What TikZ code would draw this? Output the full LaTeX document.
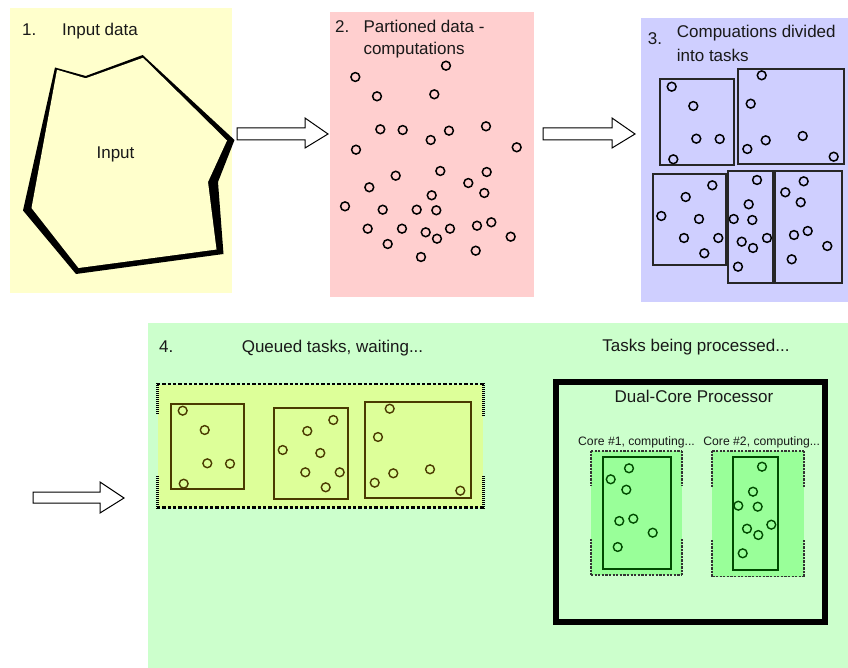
\documentclass[tikz,border=0pt]{standalone}
\usepackage{fontspec}
\setmainfont{Liberation Sans}
\definecolor{pyellow}{HTML}{FFFFCC}
\definecolor{ppink}{HTML}{FFCFCF}
\definecolor{plav}{HTML}{CFCFFF}
\definecolor{pgreen}{HTML}{CCFFCC}
\definecolor{qfill}{HTML}{DDFF99}
\definecolor{olive}{HTML}{4A3A00}
\definecolor{cfill}{HTML}{99FF99}
\definecolor{dgreen}{HTML}{004A00}
\tikzset{
  big/.style={font=\fontsize{17}{20}\selectfont, inner sep=0pt, text=black!90},
  small/.style={font=\fontsize{12.2}{14}\selectfont, inner sep=0pt, text=black!90},
  blockarrow/.style={draw=black, fill=white, line width=1pt, line join=miter},
  circ/.style={draw=black, line width=1.5pt},
  qcirc/.style={draw=olive, line width=1.4pt},
  ccirc/.style={draw=dgreen, line width=1.4pt},
  taskbox/.style={draw=black!85, line width=1.7pt},
  qbox/.style={draw=olive, line width=1.7pt},
  cbox/.style={draw=dgreen, line width=1.7pt},
  qdash/.style={draw=black, line width=2.5pt, dash pattern=on 3.3pt off 2pt},
  qside/.style={draw=black, line width=3pt, dash pattern=on 1.2pt off 0.8pt},
  cdash/.style={draw=black!80, line width=1.4pt, dash pattern=on 2.2pt off 1.4pt},
  cside/.style={draw=black!80, line width=2pt, dash pattern=on 0.8pt off 0.6pt},
}
\begin{document}
\begin{tikzpicture}[x=1pt,y=-1pt]
\useasboundingbox (0,0) rectangle (848,668);
\fill[white] (0,0) rectangle (848,668);
% panels
\fill[pyellow] (10,8) rectangle (232,293);
\fill[ppink] (330,12) rectangle (534,297);
\fill[plav] (641,18) rectangle (848,302);
\fill[pgreen] (148,323) rectangle (848,668);

% panel 1
\node[big, anchor=base west] (n1) at (22,35.5) {1.};
\node[big, anchor=base west] (t1) at (62,35.5) {Input data};
\fill[black] (55,67.5) -- (85.7,76) -- (142.7,55) -- (234.5,140) -- (218,182) -- (223.5,254) -- (76,274) -- (23,210.5) -- cycle;
\fill[pyellow] (57,69.8) -- (85.7,78.3) -- (143,57.8) -- (227,140.5) -- (208,182) -- (216.5,249.5) -- (78.5,268) -- (31.5,208) -- cycle;
\node[big, anchor=base] (inp) at (115.5,158.3) {Input};

% arrows
\draw[blockarrow] (237,128) -- (305,128) -- (305,118) -- (328,134) -- (305,148) -- (305,140) -- (237,140) -- cycle;
\draw[blockarrow] (543,128) -- (612,128) -- (612,118) -- (635,134) -- (612,148) -- (612,140) -- (543,140) -- cycle;
\draw[blockarrow] (33,492) -- (100,492) -- (100,482) -- (124,498) -- (100,513) -- (100,503) -- (33,503) -- cycle;

% panel 2
\node[big, anchor=base west] (n2) at (335,32.3) {2.};
\node[big, anchor=base west] (t2a) at (363.3,32.3) {Partioned data -};
\node[big, anchor=base west] (t2b) at (363.3,55) {computations};
\foreach \x/\y in {355.3/77, 446/65.7, 377/96.3, 434.3/94.3, 380.3/129.3, 402.7/130, 430.7/140, 449/130.7, 486/126.3, 356/149.7, 516.7/147.3, 395.7/175.7, 440.3/171, 486.7/172, 369.3/187.3, 468.3/183, 431.7/195.3, 484.3/193, 345/206.3, 382.7/209.7, 416.7/209.7, 436.3/210.3, 367.7/228.7, 402/228.7, 425.7/232.3, 437/238.7, 450/228.7, 477/225.7, 491.3/222.3, 510.7/236.7, 387.7/244, 475.7/250.7, 421/257}
  \draw[circ] (\x,\y) circle[radius=4.4pt];

% panel 3
\node[big, anchor=base west] (n3) at (647.7,44.5) {3.};
\node[big, anchor=base west] (t3a) at (676.7,37.5) {Compuations divided};
\node[big, anchor=base west] (t3b) at (676.7,61.5) {into tasks};
\draw[taskbox] (660.3,79.3) rectangle (733.7,165.3);
\draw[taskbox] (737.7,69) rectangle (844,164.3);
\draw[taskbox] (652.7,173.7) rectangle (726,265.3);
\draw[taskbox] (728,170.7) rectangle (773,283.3);
\draw[taskbox] (775,170.7) rectangle (842.3,282.7);
\foreach \x/\y in {671.7/86.7, 693.3/106, 696.3/138.7, 719.7/139, 673.3/159.3,
  761.7/75.3, 750.7/103.7, 765.7/140.3, 802.7/136, 747.3/149, 833.7/156.7,
  712.3/185.3, 685.7/197, 661.3/216, 699/219, 684/238, 718.3/238, 704.3/253.3,
  757/180, 748.7/204.3, 733.7/219, 752.3/220, 741.7/241.7, 753/248, 767/238, 738/266.7,
  803.7/181.3, 785.3/192.3, 800.7/202.3, 794/235, 807.7/231, 827.3/246, 791.7/259.3}
  \draw[circ] (\x,\y) circle[radius=4.4pt];

% panel 4
\node[big, anchor=base west] (n4) at (159,352) {4.};
\node[big, anchor=base] (t4a) at (332.5,352) {Queued tasks, waiting...};
\node[big, anchor=base] (t4b) at (696,351) {Tasks being processed...};

% queue
\fill[qfill] (157.5,384.5) rectangle (483,507.5);
\draw[qdash] (157,384) -- (483.5,384);
\draw[qdash] (157,507.5) -- (483.5,507.5);
\draw[qside] (157,383) -- (157,414);
\draw[qside] (157,476) -- (157,508.5);
\draw[qside] (483,383) -- (483,416);
\draw[qside] (483,476) -- (483,508.5);
\draw[qbox] (171,403.7) rectangle (244.3,489.3);
\draw[qbox] (274.3,408.3) rectangle (347.7,499);
\draw[qbox] (365.3,402.3) rectangle (471,498);
\foreach \x/\y in {182.7/410.7, 204.7/430, 207.3/463.3, 230/463.7, 183.7/483.7,
  333.3/420, 307.3/431, 282.7/450, 320.3/453, 305.3/472.3, 339.7/472.3, 325.7/487.3,
  389.7/408.7, 378/437, 393.3/473.3, 430/469.3, 374.7/482.7, 460.3/490.7}
  \draw[qcirc] (\x,\y) circle[radius=4.4pt];

% processor
\draw[line width=5.5pt] (556,382) rectangle (825,622);
\node[big, anchor=base] (dcp) at (694,402.3) {Dual-Core Processor};
\node[small, anchor=base] (c1) at (636.5,445) {Core \#1, computing...};
\node[small, anchor=base] (c2) at (761.7,445) {Core \#2, computing...};

% core 1
\fill[cfill] (591,451) rectangle (681.5,575);
\draw[cdash] (591,451) -- (681.5,451);
\draw[cdash] (591,575) -- (681.5,575);
\draw[cside] (591,451) -- (591,485);
\draw[cside] (591,539) -- (591,575);
\draw[cside] (681.5,451) -- (681.5,485);
\draw[cside] (681.5,539) -- (681.5,575);
\draw[cbox] (603.3,457.3) rectangle (671,569.3);
\foreach \x/\y in {629/468.3, 610.7/479.3, 626.3/489.7, 619.3/521, 633.3/518.7, 652.7/532.7, 617.7/547}
  \draw[ccirc] (\x,\y) circle[radius=4.4pt];

% core 2
\fill[cfill] (712.3,451) rectangle (804.3,576.5);
\draw[cdash] (712.3,451) -- (804.3,451);
\draw[cdash] (712.3,576.5) -- (804.3,576.5);
\draw[cside] (712.3,451) -- (712.3,487);
\draw[cside] (712.3,540) -- (712.3,576.5);
\draw[cside] (804.3,451) -- (804.3,487);
\draw[cside] (804.3,540) -- (804.3,576.5);
\draw[cbox] (732.7,457.3) rectangle (777.7,570);
\foreach \x/\y in {762/466.7, 753/491.7, 738.3/505.7, 757.7/506.7, 747/528.7, 771.3/524.7, 758.3/535, 742.7/553.3}
  \draw[ccirc] (\x,\y) circle[radius=4.4pt];
\end{tikzpicture}
\end{document}
